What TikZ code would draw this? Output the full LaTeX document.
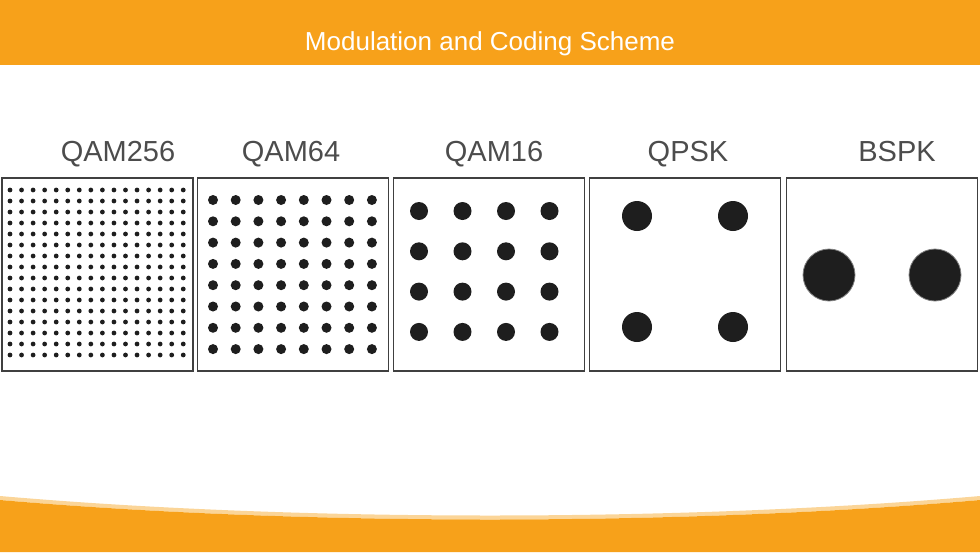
\documentclass[tikz,border=0pt]{standalone}
\usepackage{fontspec}
\setmainfont{Liberation Sans}
\definecolor{bandorange}{HTML}{F7A11A}
\definecolor{dotblack}{HTML}{1E1E1E}
\tikzset{
  panel/.style={draw=black!75, line width=1.2pt, minimum width=191pt, minimum height=193pt, inner sep=0pt},
  label/.style={font=\fontsize{29}{29}\selectfont, text=black!70, anchor=base},
  dot/.style={fill=dotblack}
}
\begin{document}
\begin{tikzpicture}[x=1pt,y=-1pt]
\useasboundingbox (0,0) rectangle (980,552);
% header and bottom band
\fill [bandorange] (0,0) rectangle (980,65);
\node [text=white, font=\fontsize{26}{26}\selectfont] (title) at (490,44) {Modulation and Coding Scheme};
\fill [bandorange!45] (0,496) .. controls (300,522) and (680,522) .. (980,496) -- (980,500) .. controls (680,526) and (300,526) .. (0,500) -- cycle;
\fill [bandorange] (0,500) .. controls (300,526) and (680,526) .. (980,500) -- (980,552) -- (0,552) -- cycle;
% panels
\node [panel] (qam256) at (97.5,274.5) {};
\node [panel] (qam64) at (293,274.5) {};
\node [panel] (qam16) at (489,274.5) {};
\node [panel] (qpsk) at (685,274.5) {};
\node [panel] (bpsk) at (882,274.5) {};
% labels
\node [label] (lqam256) at (118,161) {QAM256};
\node [label] (lqam64) at (291,161) {QAM64};
\node [label] (lqam16) at (494,161) {QAM16};
\node [label] (lqpsk) at (688,161) {QPSK};
\node [label] (lbpsk) at (897,161) {BSPK};
% constellation points
\foreach \i in {0,...,15}
  \foreach \j in {0,...,15}
    \fill [dot] (10+\i*11.55,190+\j*11.0) circle (2.4);
\foreach \i in {0,...,7}
  \foreach \j in {0,...,7}
    \fill [dot] (213+\i*22.7,200+\j*21.3) circle (5);
\foreach \i in {0,...,3}
  \foreach \j in {0,...,3}
    \fill [dot] (419+\i*43.5,211+\j*40.3) circle (9);
\foreach \i in {0,1}
  \foreach \j in {0,1}
    \fill [dot] (637+\i*96,216+\j*111) circle (15);
\foreach \i in {0,1}
  \filldraw [dot, draw=black!50, line width=0.8pt] (829+\i*106,275) circle (26);
\end{tikzpicture}
\end{document}
